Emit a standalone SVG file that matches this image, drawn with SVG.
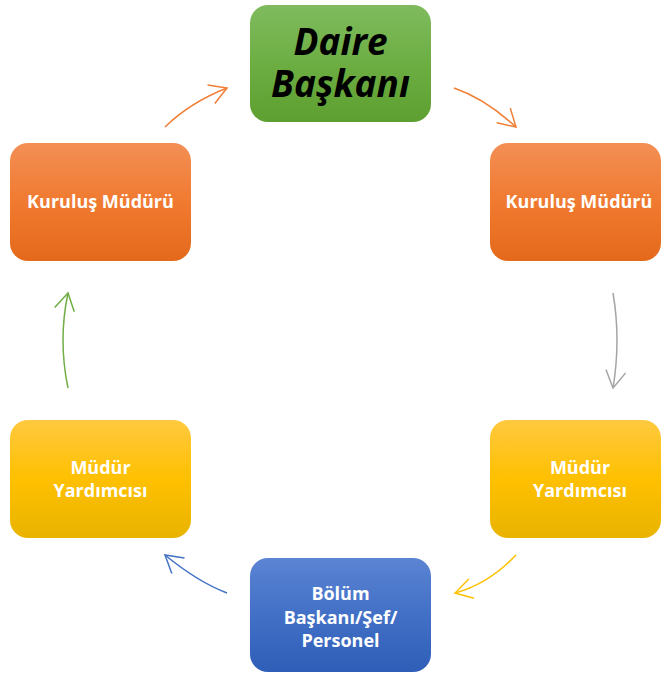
<svg xmlns="http://www.w3.org/2000/svg" width="662" height="673" viewBox="0 0 662 673">
<defs>
<linearGradient id="gOrange" x1="0" y1="0" x2="0" y2="1">
<stop offset="0" stop-color="#F38F55"/><stop offset="0.5" stop-color="#F07A30"/><stop offset="1" stop-color="#E4691B"/>
</linearGradient>
<linearGradient id="gGreen" x1="0" y1="0" x2="0" y2="1">
<stop offset="0" stop-color="#7FBB5E"/><stop offset="0.5" stop-color="#6DAE43"/><stop offset="1" stop-color="#5E9F31"/>
</linearGradient>
<linearGradient id="gYellow" x1="0" y1="0" x2="0" y2="1">
<stop offset="0" stop-color="#FFC940"/><stop offset="0.5" stop-color="#FFC000"/><stop offset="1" stop-color="#E8B300"/>
</linearGradient>
<linearGradient id="gBlue" x1="0" y1="0" x2="0" y2="1">
<stop offset="0" stop-color="#5B84D3"/><stop offset="0.5" stop-color="#4270C6"/><stop offset="1" stop-color="#2F5EB8"/>
</linearGradient>
<marker id="mOrange" markerUnits="userSpaceOnUse" markerWidth="40" markerHeight="40" viewBox="-20 -20 40 40" refX="0" refY="0" orient="auto" overflow="visible"><path d="M-17,-10 L0,0 L-17,10" fill="none" stroke="#F07E36" stroke-width="1.5"/></marker>
<marker id="mGray" markerUnits="userSpaceOnUse" markerWidth="40" markerHeight="40" viewBox="-20 -20 40 40" refX="0" refY="0" orient="auto" overflow="visible"><path d="M-17,-10 L0,0 L-17,10" fill="none" stroke="#A5A5A5" stroke-width="1.5"/></marker>
<marker id="mYellow" markerUnits="userSpaceOnUse" markerWidth="40" markerHeight="40" viewBox="-20 -20 40 40" refX="0" refY="0" orient="auto" overflow="visible"><path d="M-17,-10 L0,0 L-17,10" fill="none" stroke="#FFC000" stroke-width="1.5"/></marker>
<marker id="mBlue" markerUnits="userSpaceOnUse" markerWidth="40" markerHeight="40" viewBox="-20 -20 40 40" refX="0" refY="0" orient="auto" overflow="visible"><path d="M-17,-10 L0,0 L-17,10" fill="none" stroke="#4472C4" stroke-width="1.5"/></marker>
<marker id="mGreen" markerUnits="userSpaceOnUse" markerWidth="40" markerHeight="40" viewBox="-20 -20 40 40" refX="0" refY="0" orient="auto" overflow="visible"><path d="M-17,-10 L0,0 L-17,10" fill="none" stroke="#70AD47" stroke-width="1.5"/></marker>
</defs>
<style>
.lbl{font-family:"Open Sans","Liberation Sans",sans-serif;font-weight:bold;font-size:18px;fill:#FFFFFF;text-anchor:middle}
.big{font-family:"Open Sans","Liberation Sans",sans-serif;font-weight:bold;font-style:italic;font-size:37px;fill:#000000;text-anchor:middle}
.c{fill:none;stroke-width:1.5}
</style>
<rect width="662" height="673" fill="#FFFFFF"/>
<g id="connectors">
<path class="c" d="M165,127 Q190,102.5 227,88" stroke="#F07E36" marker-end="url(#mOrange)"/>
<path class="c" d="M454,88 Q485,98.5 516,127" stroke="#F07E36" marker-end="url(#mOrange)"/>
<path class="c" d="M613,293 Q621,340 613,388" stroke="#A5A5A5" marker-end="url(#mGray)"/>
<path class="c" d="M516,555 Q488.5,584 455,593" stroke="#FFC000" marker-end="url(#mYellow)"/>
<path class="c" d="M227,593 Q198,582 165,555" stroke="#4472C4" marker-end="url(#mBlue)"/>
<path class="c" d="M68,388 Q58,340 68,293" stroke="#70AD47" marker-end="url(#mGreen)"/>
</g>
<g id="daire-baskani">
<rect x="250" y="5" width="181" height="117" rx="18" fill="url(#gGreen)"/>
<text class="big" x="340.5" y="55">Daire</text>
<text class="big" x="340.5" y="97">Başkanı</text>
</g>
<g id="kurulus-muduru-right">
<rect x="490" y="143" width="171" height="118" rx="18" fill="url(#gOrange)"/>
<text class="lbl" x="579" y="208">Kuruluş Müdürü</text>
</g>
<g id="mudur-yardimcisi-right">
<rect x="490" y="420" width="171" height="118" rx="18" fill="url(#gYellow)"/>
<text class="lbl" x="580" y="474">Müdür</text>
<text class="lbl" x="580" y="497">Yardımcısı</text>
</g>
<g id="bolum-baskani">
<rect x="250" y="558" width="181" height="114" rx="18" fill="url(#gBlue)"/>
<text class="lbl" x="340.5" y="600">Bölüm</text>
<text class="lbl" x="340.5" y="624">Başkanı/Şef/</text>
<text class="lbl" x="340.5" y="647">Personel</text>
</g>
<g id="mudur-yardimcisi-left">
<rect x="10" y="420" width="181" height="118" rx="18" fill="url(#gYellow)"/>
<text class="lbl" x="100.5" y="474">Müdür</text>
<text class="lbl" x="100.5" y="497">Yardımcısı</text>
</g>
<g id="kurulus-muduru-left">
<rect x="10" y="143" width="181" height="118" rx="18" fill="url(#gOrange)"/>
<text class="lbl" x="100.5" y="208">Kuruluş Müdürü</text>
</g>
</svg>
